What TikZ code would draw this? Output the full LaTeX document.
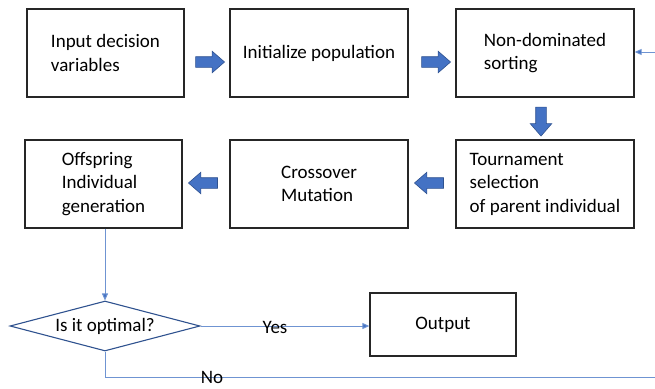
\documentclass[tikz,border=0pt]{standalone}
\usepackage{fontspec}
\setmainfont{Carlito}
\usetikzlibrary{shapes.geometric,shapes.arrows,arrows.meta}
\definecolor{accent}{HTML}{4472C4}
\definecolor{accentdark}{HTML}{2F528F}
\definecolor{linkblue}{HTML}{6F94D2}
\begin{document}
\begin{tikzpicture}[x=1pt,y=-1pt,
  box/.style={draw=black!85,line width=1.3pt,minimum width=157pt,minimum height=88pt,align=left,inner sep=0pt,font=\fontsize{19}{23.5}\selectfont},
  widebox/.style={box,minimum width=178pt},
  blockarrow/.style={single arrow,draw=accentdark,fill=accent,line width=0.6pt,minimum height=29pt,minimum width=21pt,inner xsep=0pt,inner ysep=5pt,single arrow head extend=5.5pt,single arrow tip angle=82},
  link/.style={draw=linkblue,line width=0.9pt},
  tip/.style={-{Triangle[length=7pt,width=6pt,fill=accent]}},
  lbl/.style={font=\fontsize{19}{22}\selectfont,inner sep=0pt}
]
\useasboundingbox (0,0) rectangle (655,388);
\node[box] (b1) at (105.5,53) {Input decision\\variables};
\node[widebox] (b2) at (319,53) {Initialize population};
\node[widebox] (b3) at (545,53) {Non-dominated\\sorting};
\node[box] (b4) at (103.5,184) {Offspring\\Individual\\generation};
\node[widebox] (b5) at (319,184) {Crossover\\Mutation};
\node[widebox] (b6) at (545,184) {Tournament\\selection\\of parent individual};
\node[blockarrow] (a1) at (207,62) {};
\node[blockarrow] (a2) at (433,62) {};
\node[blockarrow,rotate=-90] (a3) at (541,118.5) {};
\node[blockarrow,shape border rotate=180] (a4) at (432,183) {};
\node[blockarrow,shape border rotate=180] (a5) at (206,183) {};
\node[diamond,draw=accentdark,line width=1.1pt,aspect=3.8,minimum width=190pt,minimum height=50pt,inner sep=0pt,font=\fontsize{19}{22}\selectfont] (d) at (105,326) {Is it optimal?};
\node[draw=black!85,line width=1.3pt,minimum width=146pt,minimum height=63pt,inner sep=0pt,font=\fontsize{19}{22}\selectfont] (out) at (443,324.5) {Output};
\coordinate (fbin) at (655,52);
\coordinate (nocorner) at (105,377);
\coordinate (noend) at (655,377);
\draw[link,tip] (b4.south -| d.north) -- (d.north);
\draw[link,tip] (d.east) -- (out.west |- d.east);
\draw[link] (d.south) -- (nocorner) -- (noend);
\draw[link,tip] (fbin) -- (b3.east |- fbin);
\node[lbl] (yes) at (275,327) {Yes};
\node[lbl] (no) at (212,377) {No};
\end{tikzpicture}
\end{document}
